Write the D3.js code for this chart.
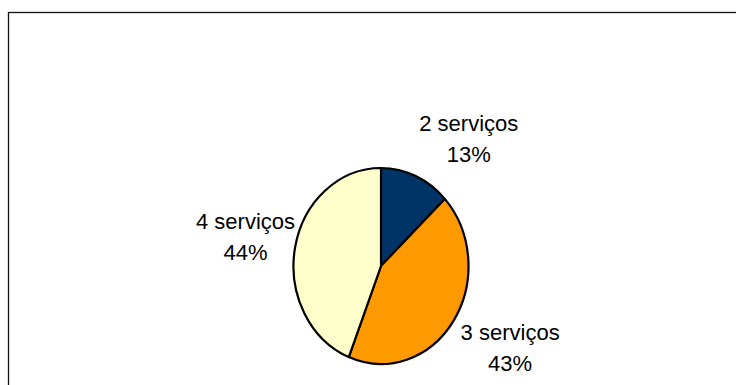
<!DOCTYPE html>
<html>
<head>
<meta charset="utf-8">
<script src="https://cdn.jsdelivr.net/npm/d3@7/dist/d3.min.js"></script>
<style>
  html, body { margin: 0; padding: 0; background: #fff; }
  svg { display: block; }
  text { font-family: "Liberation Sans", Arial, sans-serif; fill: #000; }
</style>
</head>
<body>
<svg id="chart" width="736" height="385"></svg>
<script>
const categories = ["2 serviços", "3 serviços", "4 serviços"];
const values = [13, 43, 44];
const percentLabels = ["13%", "43%", "44%"];
const colors = ["#003366", "#FF9900", "#FFFFCC"];

const svg = d3.select("#chart");

// outer frame (extends past right/bottom edges as in the reference)
svg.append("rect")
  .attr("x", 8.5).attr("y", 12.5)
  .attr("width", 760).attr("height", 400)
  .attr("fill", "#fff").attr("stroke", "#111").attr("stroke-width", 1.3);

const cx = 381, cy = 266, rx = 87.5, ry = 98;
const R = 100;

const pie = d3.pie().value(d => d).sort(null);
const arcs = pie(values);
const arc = d3.arc().innerRadius(0).outerRadius(R);

const g = svg.append("g")
  .attr("transform", `translate(${cx},${cy}) scale(${rx / R},${ry / R})`);

g.selectAll("path")
  .data(arcs)
  .join("path")
  .attr("d", arc)
  .attr("fill", (d, i) => colors[i])
  .attr("stroke", "#000")
  .attr("stroke-width", 2.2)
  .attr("stroke-linejoin", "round")
  .attr("vector-effect", "non-scaling-stroke");

// labels outside the pie, positioned relative to each slice's mid-angle
const fontSize = 22;
const lineGap = 31.5;
arcs.forEach((d, i) => {
  const a = (d.startAngle + d.endAngle) / 2;
  const s = Math.sin(a), c = Math.cos(a);
  const kx = s >= 0 ? 1.1 : 1.0;
  const ky = c >= 0 ? 1.1 : 1.0;
  const px = cx + rx * kx * s;
  const py = cy - ry * ky * c;
  const t = svg.append("text")
    .attr("font-size", fontSize)
    .attr("text-anchor", "middle");
  t.append("tspan").attr("x", 0).attr("y", 0).text(categories[i]);
  t.append("tspan").attr("x", 0).attr("y", lineGap).text(percentLabels[i]);
  const bb = t.node().getBBox();
  const w = bb.width, h = bb.height;
  const left = s >= 0 ? px : px - w;
  const f = Math.max(0, Math.min(1, 0.5 + 0.85 * c));
  const top = py - h * f;
  t.attr("transform", `translate(${left + w / 2},${top - bb.y})`);
});
</script>
</body>
</html>
